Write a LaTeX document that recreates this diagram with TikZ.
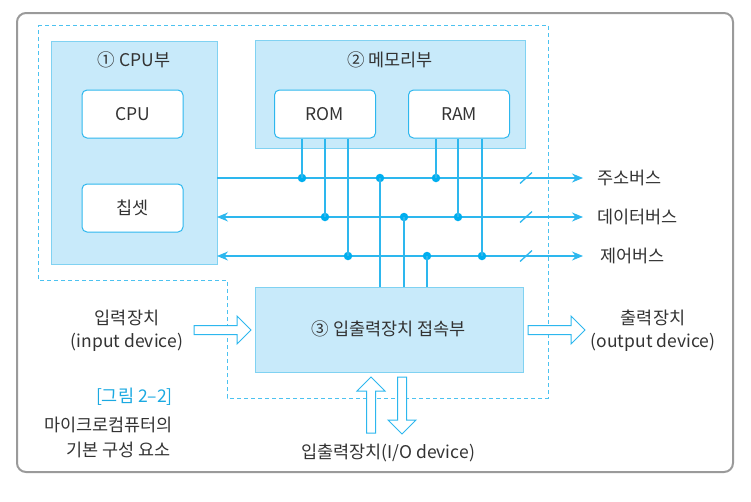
\documentclass[tikz,border=0pt]{standalone}
\usepackage{fontspec}
\setmainfont{Noto Sans CJK KR}
\usetikzlibrary{arrows.meta}
\definecolor{boxfill}{HTML}{C8EAFA}
\definecolor{boxline}{HTML}{80D2F2}
\definecolor{busline}{HTML}{2DB7EE}
\definecolor{dotc}{HTML}{00AEEF}
\definecolor{dashc}{HTML}{4CC2F0}
\definecolor{framec}{HTML}{9A9A9A}
\definecolor{captionc}{HTML}{1BA9E1}
\definecolor{textc}{HTML}{333333}
\begin{document}
\begin{tikzpicture}[x=1pt,y=-1pt, font=\fontsize{17.5}{23}\selectfont, text=textc,
  group/.style={draw=boxline, fill=boxfill, line width=0.8pt, inner sep=0, anchor=north west},
  unit/.style={draw=busline, fill=white, rounded corners=5pt, line width=1pt, minimum width=101pt, minimum height=48pt, inner sep=0},
  bus/.style={draw=busline, line width=1.1pt},
  tipR/.style={-{Stealth[length=11pt,width=9pt]}},
  tipLR/.style={{Stealth[length=11pt,width=9pt]}-{Stealth[length=11pt,width=9pt]}},
  jdot/.style={circle, fill=dotc, inner sep=0, minimum size=8.5pt},
  hollow/.style={draw=busline, fill=white, line width=1pt},
  lbl/.style={inner sep=0, align=center}]
\useasboundingbox (0,0) rectangle (751,501);
% outer frame
\draw[framec, line width=2pt, rounded corners=9pt] (17,13) rectangle (733,472);
% dashed boundary
\draw[dashc, line width=1pt, dash pattern=on 4pt off 3pt] (38,25) -- (548,25) -- (548,398) -- (227,398) -- (227,280) -- (38,280) -- cycle;
% groups
\node[group, minimum width=166pt, minimum height=223pt] (cpug) at (51,41) {};
\node[group, minimum width=270pt, minimum height=108pt] (memg) at (255,40) {};
\node[group, minimum width=268pt, minimum height=85pt] (iog) at (255,287) {};
\node[lbl] (cpuT) at (134,60) {① CPU부};
\node[lbl] (memT) at (390,60) {② 메모리부};
\node[lbl] (ioT) at (389,329) {③ 입출력장치 접속부};
% units
\node[unit] (cpu) at (132.5,114) {CPU};
\node[unit] (chip) at (132.5,208) {칩셋};
\node[unit] (rom) at (325,114) {ROM};
\node[unit] (ram) at (459,114) {RAM};
% bus ends
\coordinate (aL) at (217,178); \coordinate (aR) at (583,178);
\coordinate (dL) at (217,217); \coordinate (dR) at (583,217);
\coordinate (cL) at (217,256); \coordinate (cR) at (583,256);
\draw[bus, tipR] (aL) -- (aR);
\draw[bus, tipLR] (dL) -- (dR);
\draw[bus, tipLR] (cL) -- (cR);
\node[lbl, anchor=west] (aT) at (597,178) {주소버스};
\node[lbl, anchor=west] (dT) at (597,217) {데이터버스};
\node[lbl, anchor=west] (cT) at (600,256) {제어버스};
% slashes
\foreach \y in {178,217,256} \draw[bus, line width=1.3pt] (520,\y+5.5) -- (532,\y-5.5);
% junction dots
\node[jdot] (j1) at (302,178) {};
\node[jdot] (j2) at (325,217) {};
\node[jdot] (j3) at (348,256) {};
\node[jdot] (j4) at (380,178) {};
\node[jdot] (j5) at (404,217) {};
\node[jdot] (j6) at (427,256) {};
\node[jdot] (j7) at (436,178) {};
\node[jdot] (j8) at (458,217) {};
\node[jdot] (j9) at (482,256) {};
% verticals
\foreach \j in {j1,j2,j3} \draw[bus] (rom.south -| \j) -- (\j.center);
\foreach \j in {j7,j8,j9} \draw[bus] (ram.south -| \j) -- (\j.center);
\foreach \j in {j4,j5,j6} \draw[bus] (\j.center) -- (iog.north -| \j);
% hollow arrows
\draw[hollow] (194,325.5) -- (237,325.5) -- (237,316) -- (251,330) -- (237,344) -- (237,334.5) -- (194,334.5) -- cycle;
\draw[hollow] (528,325.5) -- (571,325.5) -- (571,316) -- (585,330) -- (571,344) -- (571,334.5) -- (528,334.5) -- cycle;
\draw[hollow] (366.5,433) -- (366.5,391) -- (357,391) -- (371,377) -- (385,391) -- (375.5,391) -- (375.5,433) -- cycle;
\draw[hollow] (397.5,377) -- (397.5,420) -- (388,420) -- (402,434) -- (416,420) -- (406.5,420) -- (406.5,377) -- cycle;
% labels
\node[lbl] (inT) at (127,331) {입력장치\\(input device)};
\node[lbl] (outT) at (653,331) {출력장치\\(output device)};
\node[lbl] (ioDev) at (388,453) {입출력장치(I/O device)};
\node[lbl, anchor=east, text=captionc] (cap1) at (173,397) {[그림 2–2]};
\node[lbl, anchor=east] (cap2) at (173,425) {마이크로컴퓨터의};
\node[lbl, anchor=east] (cap3) at (171,450) {기본 구성 요소};
\end{tikzpicture}
\end{document}
